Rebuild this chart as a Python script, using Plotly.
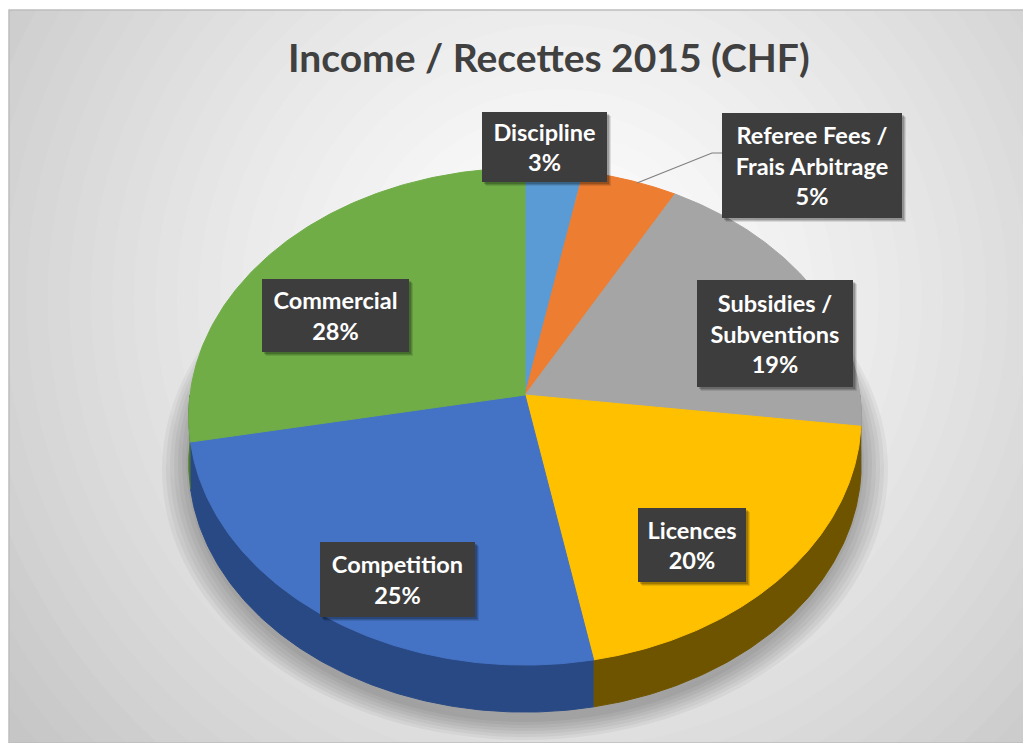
import numpy as np
import plotly.graph_objects as go

# ---------------- data ----------------
categories = ["Discipline", "Referee Fees / Frais Arbitrage", "Subsidies / Subventions",
              "Licences", "Competition", "Commercial"]
label_lines = ["Discipline", "Referee Fees /<br>Frais Arbitrage", "Subsidies /<br>Subventions",
               "Licences", "Competition", "Commercial"]
shares = [3, 5, 19, 20, 25, 28]
title_text = "Income / Recettes 2015 (CHF)"

# ---------------- styles ----------------
top_colors = ["#5B9BD5", "#ED7D31", "#A5A5A5", "#FFC000", "#4472C4", "#70AD47"]
side_colors = ["#3d73a6", "#a85520", "#797979", "#6f5400", "#294985", "#4d7a30"]
label_pos = [(544.5, 147), (812, 165.5), (775, 333.5), (692, 545), (397.5, 579.5), (335.5, 315.5)]
label_box = [(125, 70), (180, 105), (156, 107), (108, 74), (155, 75), (147, 73)]

W, H = 1031, 743
BODY = 8                   # default page margin of the html body
CX, CY = 525, 395          # pie vertex (pixels)
RX, RY = 335, 246.7        # radii
K = 0.0866                 # perspective factor
DEPTH = 47                 # 3-D thickness


def project(theta):
    u, v = np.cos(theta), np.sin(theta)
    d = 1 + K * v
    return CX + RX * u / d, CY - RY * v / d


fig = go.Figure()

# slice angles (clockwise from 12 o'clock)
total = float(sum(shares))
bounds = []
acc = 0.0
for s in shares:
    a0 = np.pi / 2 - 2 * np.pi * acc / total
    acc += s
    a1 = np.pi / 2 - 2 * np.pi * acc / total
    bounds.append((a0, a1))

# sides (front half only)
for (a0, a1), col, name in zip(bounds, side_colors, categories):
    hi, lo = min(a0, 0.0), max(a1, -np.pi)
    if hi <= lo:
        continue
    t = np.linspace(hi, lo, 120)
    xt, yt = project(t)
    xs = np.concatenate([xt, xt[::-1]])
    ys = np.concatenate([yt, yt[::-1] + DEPTH])
    fig.add_trace(go.Scatter(x=xs, y=ys, fill="toself", fillcolor=col, mode="lines",
                             line=dict(color=col, width=1), hoverinfo="skip", showlegend=False))

# top faces
for (a0, a1), col, name, s in zip(bounds, top_colors, categories, shares):
    t = np.linspace(a0, a1, 160)
    xt, yt = project(t)
    xs = np.concatenate([[CX], xt, [CX]])
    ys = np.concatenate([[CY], yt, [CY]])
    fig.add_trace(go.Scatter(x=xs, y=ys, fill="toself", fillcolor=col, mode="lines",
                             line=dict(color=col, width=1), name=name,
                             hovertemplate=f"{name}: {s}%<extra></extra>", showlegend=False))

# ---------------- background ----------------
shapes = []
gcx, gcy = 560, 300
for r in np.linspace(900, 60, 40):
    g = int(round(255 - 57 * min(1.0, (r / 700.0)) ** 1.3))
    shapes.append(dict(type="circle", xref="x", yref="y", layer="below",
                       x0=gcx - r, x1=gcx + r, y0=gcy - r, y1=gcy + r,
                       fillcolor=f"rgb({g},{g},{g})", line=dict(width=0)))
# soft shadow under the pie
for i in range(7):
    shapes.append(dict(type="circle", xref="x", yref="y", layer="below",
                       x0=186 - 4 * i, x1=864 + 4 * i, y0=200, y1=722 + 3 * i,
                       fillcolor="rgba(0,0,0,0.045)", line=dict(width=0)))
# chart frame
shapes.append(dict(type="rect", xref="paper", yref="paper", x0=0, x1=1, y0=0, y1=1,
                   line=dict(color="#bdbdbd", width=1.5), fillcolor="rgba(0,0,0,0)"))
# leader line for Referee Fees
shapes.append(dict(type="path", xref="x", yref="y", path="M 637 183 L 712 153 L 722 153",
                   line=dict(color="#7f7f7f", width=1.2)))
# label box shadows
for (px, py), (bw, bh) in zip(label_pos, label_box):
    for j, a in enumerate([0.10, 0.14, 0.18]):
        off = 4 - j
        shapes.append(dict(type="rect", xref="x", yref="y", layer="above",
                           x0=px - bw / 2 + off, x1=px + bw / 2 + off,
                           y0=py - bh / 2 + off, y1=py + bh / 2 + off,
                           fillcolor=f"rgba(0,0,0,{a})", line=dict(width=0)))

# ---------------- labels ----------------
annotations = []
for txt, s, (px, py), (bw, bh) in zip(label_lines, shares, label_pos, label_box):
    annotations.append(dict(x=px, y=py, xref="x", yref="y", showarrow=False,
                            text=f"<b>{txt}<br>{s}%</b>", align="center", valign="middle",
                            xanchor="center", yanchor="middle", width=bw, height=bh,
                            font=dict(family="Lato, Open Sans, sans-serif", size=23.5, color="white"),
                            bgcolor="#3d3d3d", borderpad=0, borderwidth=0))
annotations.append(dict(x=549, y=57, xref="x", yref="y", showarrow=False,
                        text=f"<b>{title_text}</b>", xanchor="center", yanchor="middle",
                        font=dict(family="Lato, Open Sans, sans-serif", size=39, color="#404040")))

fig.update_layout(
    width=W - BODY, height=H - BODY, autosize=False,
    margin=dict(l=9 - BODY, r=0, t=10 - BODY, b=0, pad=0),
    paper_bgcolor="white", plot_bgcolor="#cfcfcf",
    xaxis=dict(range=[9, W], visible=False, showgrid=False, zeroline=False, fixedrange=True),
    yaxis=dict(range=[H, 10], visible=False, showgrid=False, zeroline=False, fixedrange=True),
    shapes=shapes, annotations=annotations, showlegend=False,
)

fig.write_html("out.html", config={"displayModeBar": False})
